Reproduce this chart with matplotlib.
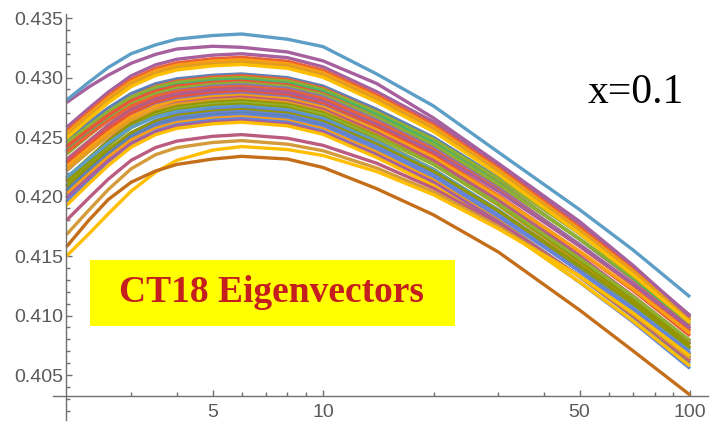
import matplotlib
matplotlib.use('Agg')
import matplotlib.pyplot as plt
from matplotlib.patches import Rectangle
from matplotlib.ticker import FixedLocator, MultipleLocator, FormatStrFormatter, NullFormatter

# scale Q (GeV) at which every eigenvector curve is sampled
q = [2, 2.3, 2.6, 3, 3.5, 4, 5, 6, 8, 10, 14, 20, 30, 50, 70, 100]

top_curve = [0.4281, 0.4296, 0.43085, 0.432, 0.43275, 0.43323, 0.43353, 0.43366,
             0.43322, 0.4326, 0.4303, 0.42761, 0.42374, 0.4189, 0.4155, 0.41156]
second_curve = [0.4279, 0.4292, 0.4302, 0.4312, 0.43195, 0.4324, 0.43263, 0.43254,
                0.43215, 0.4314, 0.4295, 0.4266, 0.4228, 0.4179, 0.4142, 0.4099]

upper_group = [
    [0.4258, 0.42741, 0.42878, 0.43014, 0.43107, 0.43154, 0.43188, 0.432, 0.43167, 0.4309, 0.42881, 0.42628, 0.42265, 0.41759, 0.41407, 0.41],
    [0.4255, 0.42711, 0.42848, 0.42984, 0.43077, 0.43124, 0.43158, 0.4317, 0.43137, 0.43061, 0.42854, 0.42603, 0.42244, 0.41742, 0.41393, 0.4099],
    [0.4253, 0.42691, 0.42828, 0.42964, 0.43057, 0.43104, 0.43138, 0.4315, 0.43117, 0.43041, 0.42834, 0.42583, 0.42224, 0.41722, 0.41373, 0.4097],
    [0.4251, 0.42671, 0.42808, 0.42944, 0.43037, 0.43084, 0.43118, 0.4313, 0.43098, 0.43022, 0.42815, 0.42566, 0.42208, 0.41709, 0.41361, 0.4096],
    [0.4249, 0.42651, 0.42788, 0.42924, 0.43017, 0.43064, 0.43098, 0.4311, 0.43078, 0.43002, 0.42795, 0.42546, 0.42188, 0.41689, 0.41341, 0.4094],
]
upper_colors = ['#A5609D', '#EB6235', '#F89F13', '#E19C24', '#FFBF00']

band = [
    [0.4248, 0.42623, 0.42744, 0.42865, 0.42948, 0.42989, 0.43019, 0.4303, 0.42999, 0.42928, 0.42733, 0.42497, 0.42159, 0.41687, 0.41359, 0.4098],
    [0.42415, 0.42571, 0.42703, 0.42835, 0.42925, 0.4297, 0.43003, 0.43015, 0.42984, 0.4291, 0.42711, 0.42469, 0.42123, 0.4164, 0.41304, 0.40915],
    [0.4245, 0.42593, 0.42714, 0.42835, 0.42918, 0.42959, 0.42989, 0.43, 0.4297, 0.429, 0.4271, 0.4248, 0.4215, 0.4169, 0.4137, 0.41],
    [0.42385, 0.42541, 0.42673, 0.42805, 0.42895, 0.4294, 0.42973, 0.42985, 0.42954, 0.42883, 0.42688, 0.42452, 0.42114, 0.41642, 0.41314, 0.40935],
    [0.4242, 0.42563, 0.42684, 0.42805, 0.42888, 0.42929, 0.42959, 0.4297, 0.42939, 0.42865, 0.42666, 0.42424, 0.42078, 0.41595, 0.41259, 0.4087],
    [0.42355, 0.42511, 0.42643, 0.42775, 0.42865, 0.4291, 0.42943, 0.42955, 0.42925, 0.42855, 0.42665, 0.42435, 0.42105, 0.41645, 0.41325, 0.40955],
    [0.4229, 0.42459, 0.42602, 0.42745, 0.42843, 0.42891, 0.42927, 0.4294, 0.42909, 0.42838, 0.42643, 0.42407, 0.42069, 0.41597, 0.41269, 0.4089],
    [0.42375, 0.42518, 0.42639, 0.4276, 0.42843, 0.42884, 0.42914, 0.42925, 0.42894, 0.42823, 0.42628, 0.42392, 0.42054, 0.41582, 0.41254, 0.40875],
    [0.4231, 0.42466, 0.42598, 0.4273, 0.4282, 0.42865, 0.42898, 0.4291, 0.42878, 0.42803, 0.42598, 0.42351, 0.41996, 0.41502, 0.41158, 0.4076],
    [0.42245, 0.42414, 0.42557, 0.427, 0.42798, 0.42846, 0.42882, 0.42895, 0.42865, 0.42795, 0.42605, 0.42375, 0.42045, 0.41585, 0.41265, 0.40895],
    [0.4228, 0.42436, 0.42568, 0.427, 0.4279, 0.42835, 0.42868, 0.4288, 0.42849, 0.42778, 0.42583, 0.42347, 0.42009, 0.41537, 0.41209, 0.4083],
    [0.42215, 0.42384, 0.42527, 0.4267, 0.42768, 0.42816, 0.42852, 0.42865, 0.42834, 0.4276, 0.42561, 0.42319, 0.41973, 0.4149, 0.41154, 0.40765],
    [0.4225, 0.42406, 0.42538, 0.4267, 0.4276, 0.42805, 0.42838, 0.4285, 0.4282, 0.4275, 0.4256, 0.4233, 0.42, 0.4154, 0.4122, 0.4085],
    [0.42135, 0.42317, 0.42471, 0.42625, 0.4273, 0.42783, 0.42821, 0.42835, 0.42804, 0.42733, 0.42538, 0.42302, 0.41964, 0.41492, 0.41164, 0.40785],
    [0.4222, 0.42376, 0.42508, 0.4264, 0.4273, 0.42775, 0.42808, 0.4282, 0.42789, 0.42715, 0.42516, 0.42274, 0.41928, 0.41445, 0.41109, 0.4072],
    [0.42155, 0.42324, 0.42467, 0.4261, 0.42708, 0.42756, 0.42792, 0.42805, 0.42774, 0.42703, 0.42508, 0.42272, 0.41934, 0.41462, 0.41134, 0.40755],
    [0.4209, 0.42272, 0.42426, 0.4258, 0.42685, 0.42738, 0.42776, 0.4279, 0.4276, 0.4269, 0.425, 0.4227, 0.4194, 0.4148, 0.4116, 0.4079],
    [0.42125, 0.42294, 0.42437, 0.4258, 0.42678, 0.42726, 0.42762, 0.42775, 0.42744, 0.4267, 0.42471, 0.42229, 0.41883, 0.414, 0.41064, 0.40675],
    [0.4216, 0.42316, 0.42448, 0.4258, 0.4267, 0.42715, 0.42748, 0.4276, 0.42729, 0.42658, 0.42463, 0.42227, 0.41889, 0.41417, 0.41089, 0.4071],
    [0.42045, 0.42227, 0.42381, 0.42535, 0.4264, 0.42693, 0.42731, 0.42745, 0.42714, 0.4264, 0.42441, 0.42199, 0.41853, 0.4137, 0.41034, 0.40645],
    [0.4208, 0.42249, 0.42392, 0.42535, 0.42633, 0.42681, 0.42717, 0.4273, 0.427, 0.4263, 0.4244, 0.4221, 0.4188, 0.4142, 0.411, 0.4073],
    [0.42015, 0.42197, 0.42351, 0.42505, 0.4261, 0.42663, 0.42701, 0.42715, 0.42684, 0.42613, 0.42418, 0.42182, 0.41844, 0.41372, 0.41044, 0.40665],
    [0.4205, 0.42219, 0.42362, 0.42505, 0.42603, 0.42651, 0.42687, 0.427, 0.42669, 0.42595, 0.42396, 0.42154, 0.41808, 0.41325, 0.40989, 0.406],
    [0.41985, 0.42167, 0.42321, 0.42475, 0.4258, 0.42633, 0.42671, 0.42685, 0.42655, 0.42585, 0.42395, 0.42165, 0.41835, 0.41375, 0.41055, 0.40685],
    [0.4202, 0.42189, 0.42332, 0.42475, 0.42573, 0.42621, 0.42657, 0.4267, 0.42639, 0.42568, 0.42373, 0.42137, 0.41799, 0.41327, 0.40999, 0.4062],
    [0.41955, 0.42137, 0.42291, 0.42445, 0.4255, 0.42603, 0.42641, 0.42655, 0.42624, 0.4255, 0.42351, 0.42109, 0.41763, 0.4128, 0.40944, 0.40555],
    [0.4199, 0.42159, 0.42302, 0.42445, 0.42543, 0.42591, 0.42627, 0.4264, 0.4261, 0.4254, 0.4235, 0.4212, 0.4179, 0.4133, 0.4101, 0.4064],
    [0.41925, 0.42107, 0.42261, 0.42415, 0.4252, 0.42573, 0.42611, 0.42625, 0.42594, 0.42523, 0.42328, 0.42092, 0.41754, 0.41282, 0.40954, 0.40575],
]
band_colors = ['#5E81B5', '#EB6235', '#8FB032', '#47B66D', '#E95536', '#8FB032', '#8778B3',
               '#EB6235', '#BC5B80', '#A5609D', '#E95536', '#8778B3', '#F89F13', '#BC5B80',
               '#E19C24', '#929600', '#8FB032', '#929600', '#5D9EC7', '#6685D9', '#929600',
               '#6685D9', '#5E81B5', '#6685D9', '#F89F13', '#6685D9', '#A5609D', '#FFBF00']

lower_group = [
    [0.418, 0.41987, 0.42146, 0.42304, 0.42412, 0.42466, 0.42506, 0.4252, 0.4249, 0.4243, 0.4228, 0.4207, 0.4177, 0.4133, 0.41, 0.4062],
    [0.4168, 0.41885, 0.42059, 0.42233, 0.42352, 0.42411, 0.42454, 0.4247, 0.4244, 0.42385, 0.4224, 0.4204, 0.4175, 0.4133, 0.4101, 0.4064],
    [0.415, 0.41685, 0.41855, 0.42045, 0.42205, 0.42305, 0.4239, 0.4242, 0.42395, 0.42345, 0.4221, 0.42015, 0.4173, 0.4133, 0.4102, 0.4066],
]
lower_colors = ['#BC5B80', '#D39B3A', '#FFBF00']

bottom_curve = [0.41578, 0.418, 0.41975, 0.4212, 0.42215, 0.4227, 0.42315, 0.42338,
                0.42315, 0.42244, 0.42066, 0.41846, 0.41535, 0.41046, 0.40702, 0.40332]

lw = 2.4
fig = plt.figure(figsize=(7.12, 4.24), dpi=100)
ax = fig.add_axes([53 / 712, 4 / 424, 655 / 712, 406 / 424])

for ys, c in zip(band, band_colors):
    ax.plot(q, ys, color=c, lw=lw, solid_capstyle='butt')
for ys, c in zip(upper_group, upper_colors):
    ax.plot(q, ys, color=c, lw=lw, solid_capstyle='butt')
for ys, c in zip(lower_group, lower_colors):
    ax.plot(q, ys, color=c, lw=lw, solid_capstyle='butt')
ax.plot(q, second_curve, color='#A5609D', lw=lw, solid_capstyle='butt')
ax.plot(q, bottom_curve, color='#C56E1A', lw=lw, solid_capstyle='butt')
ax.plot(q, top_curve, color='#5D9EC7', lw=lw, solid_capstyle='butt')

ax.set_xscale('log')
ax.set_xlim(1.838, 111.9)
ax.set_ylim(0.40122, 0.43534)

# axes cross at Q=2 and y=0.40325
for s in ['top', 'right']:
    ax.spines[s].set_visible(False)
ax.spines['left'].set_position(('data', 2))
ax.spines['bottom'].set_position(('data', 0.40325))
for s in ['left', 'bottom']:
    ax.spines[s].set_color('#707070')
    ax.spines[s].set_linewidth(1.0)

ax.xaxis.set_major_locator(FixedLocator([5, 10, 50, 100]))
ax.xaxis.set_minor_locator(FixedLocator([3, 4, 6, 7, 8, 9, 20, 30, 40, 60, 70, 80, 90]))
ax.xaxis.set_major_formatter(FormatStrFormatter('%d'))
ax.xaxis.set_minor_formatter(NullFormatter())
ax.yaxis.set_major_locator(MultipleLocator(0.005))
ax.yaxis.set_minor_locator(MultipleLocator(0.001))
ax.yaxis.set_major_formatter(FormatStrFormatter('%.3f'))

ax.tick_params(which='both', direction='in', color='#707070', labelcolor='#5a5a5a',
               labelsize=14, width=1.0)
ax.tick_params(which='major', length=4.5)
ax.tick_params(which='minor', length=3)
ax.tick_params(axis='y', pad=2)
ax.tick_params(axis='x', pad=6)
for lab in ax.get_xticklabels() + ax.get_yticklabels():
    lab.set_family('Liberation Sans')

fig.add_artist(Rectangle((90 / 712, 1 - 326 / 424), 365 / 712, 66 / 424,
                         transform=fig.transFigure, facecolor='#FFFF00', edgecolor='none'))
fig.text(271 / 712, 1 - 292 / 424, 'CT18 Eigenvectors', ha='center', va='center',
         fontsize=27, fontweight='bold', family='Liberation Serif', color='#C41E1E')
fig.text(636 / 712, 1 - 93 / 424, 'x=0.1', ha='center', va='center',
         fontsize=30, family='Liberation Serif', color='black')

fig.savefig('out.png', dpi=100)
